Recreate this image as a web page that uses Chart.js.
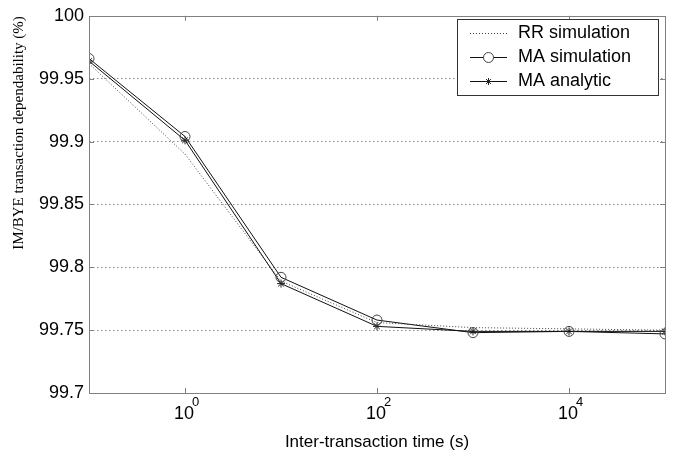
<!DOCTYPE html>
<html><head><meta charset="utf-8">
<script src="https://cdn.jsdelivr.net/npm/chart.js@4"></script>
<style>html,body{margin:0;padding:0;background:#fff}#wrap{width:679px;height:460px;position:relative}canvas{display:block}</style>
</head><body><div id="wrap"><canvas id="c" width="679" height="460"></canvas></div>
<script>
const xValues = [0.1, 1, 10, 100, 1000, 10000, 100000];
const rrSimulation = [99.962, 99.890, 99.789, 99.756, 99.752, 99.751, 99.750];
const maSimulation = [99.966, 99.904, 99.792, 99.758, 99.748, 99.749, 99.747];
const maAnalytic   = [99.964, 99.901, 99.787, 99.753, 99.749, 99.749, 99.749];
const seriesLabels = ['RR simulation', 'MA simulation', 'MA analytic'];
const yTickValues = [99.7, 99.75, 99.8, 99.85, 99.9, 99.95, 100];
const yTickLabels = ['99.7', '99.75', '99.8', '99.85', '99.9', '99.95', '100'];
const xTickExponents = [0, 2, 4];
const xTitle = 'Inter-transaction time (s)';
const yTitle = 'IM/BYE transaction dependability (%)';

const pts = arr => xValues.map((x, i) => ({x: x, y: arr[i]}));
const FRAME = '#808080';

const decorPlugin = {
  id: 'decor',
  afterDraw(chart) {
    const ctx = chart.ctx, a = chart.chartArea;
    const xs = chart.scales.x, ys = chart.scales.y;
    ctx.save();
    ctx.strokeStyle = FRAME; ctx.lineWidth = 1; ctx.setLineDash([]);
    ctx.strokeRect(Math.round(a.left) + 0.5, Math.round(a.top) + 0.5, Math.round(a.right - a.left), Math.round(a.bottom - a.top));
    ctx.beginPath();
    xTickExponents.forEach(e => {
      const px = Math.round(xs.getPixelForValue(Math.pow(10, e))) + 0.5;
      ctx.moveTo(px, a.bottom); ctx.lineTo(px, a.bottom - 5);
      ctx.moveTo(px, a.top); ctx.lineTo(px, a.top + 5);
    });
    yTickValues.forEach(v => {
      const py = Math.round(ys.getPixelForValue(v)) + 0.5;
      ctx.moveTo(a.left, py); ctx.lineTo(a.left + 5, py);
      ctx.moveTo(a.right, py); ctx.lineTo(a.right - 5, py);
    });
    ctx.stroke();
    ctx.fillStyle = '#000';
    xTickExponents.forEach(e => {
      const px = xs.getPixelForValue(Math.pow(10, e));
      ctx.font = '18px "Liberation Sans", Arial, sans-serif';
      ctx.textAlign = 'center'; ctx.textBaseline = 'middle';
      const w = ctx.measureText('10').width;
      ctx.fillText('10', px - 1, a.bottom + 21);
      ctx.font = '13px "Liberation Sans", Arial, sans-serif';
      ctx.textAlign = 'left';
      ctx.fillText(String(e), px - 1 + w / 2 - 2, a.bottom + 9);
    });
    ctx.save();
    ctx.translate(19, 133);
    ctx.rotate(-Math.PI / 2);
    ctx.font = '15px "Liberation Serif", "Times New Roman", serif';
    ctx.textAlign = 'center'; ctx.textBaseline = 'middle';
    ctx.fillText(yTitle, 0, 0);
    ctx.restore();
    const lx = 457, ly = 19, lw = 201, lh = 76;
    ctx.fillStyle = '#fff';
    ctx.fillRect(lx, ly, lw, lh);
    ctx.strokeStyle = '#333';
    ctx.strokeRect(lx + 0.5, ly + 0.5, lw, lh);
    chart.data.datasets.forEach((ds, i) => {
      const cy = ly + 14 + i * 24 + 0.5;
      ctx.strokeStyle = ds.borderColor; ctx.lineWidth = 1;
      ctx.setLineDash(ds.borderDash || []);
      ctx.beginPath(); ctx.moveTo(470, cy); ctx.lineTo(507, cy); ctx.stroke();
      ctx.setLineDash([]);
      if (ds.pointStyle === 'circle' && ds.pointRadius > 0) {
        ctx.fillStyle = '#fff';
        ctx.beginPath(); ctx.arc(488.5, cy, 5, 0, Math.PI * 2); ctx.fill();
        ctx.strokeStyle = ds.pointBorderColor; ctx.stroke();
      } else if (ds.pointStyle === 'star' && ds.pointRadius > 0) {
        ctx.strokeStyle = ds.pointBorderColor;
        const r = 3.5;
        ctx.beginPath();
        ctx.moveTo(488.5 - r, cy); ctx.lineTo(488.5 + r, cy);
        ctx.moveTo(488.5, cy - r); ctx.lineTo(488.5, cy + r);
        ctx.moveTo(488.5 - r * .7, cy - r * .7); ctx.lineTo(488.5 + r * .7, cy + r * .7);
        ctx.moveTo(488.5 - r * .7, cy + r * .7); ctx.lineTo(488.5 + r * .7, cy - r * .7);
        ctx.stroke();
      }
      ctx.fillStyle = '#000';
      ctx.font = '18px "Liberation Sans", Arial, sans-serif';
      ctx.textAlign = 'left'; ctx.textBaseline = 'middle';
      ctx.fillText(ds.label, 518, cy);
    });
    ctx.restore();
  }
};

new Chart(document.getElementById('c'), {
  type: 'line',
  data: {
    datasets: [
      { label: seriesLabels[0], data: pts(rrSimulation), borderColor: '#444', borderWidth: 1, borderDash: [1, 2],
        pointRadius: 0, pointStyle: false, fill: false, tension: 0 },
      { label: seriesLabels[1], data: pts(maSimulation), borderColor: '#111', borderWidth: 1,
        pointStyle: 'circle', pointRadius: 5, pointBorderWidth: 1, pointBorderColor: '#444', pointBackgroundColor: 'rgba(0,0,0,0)', fill: false, tension: 0 },
      { label: seriesLabels[2], data: pts(maAnalytic), borderColor: '#111', borderWidth: 1,
        pointStyle: 'star', pointRadius: 4, pointBorderWidth: 1, pointBorderColor: '#222', pointBackgroundColor: 'rgba(0,0,0,0)', fill: false, tension: 0 }
    ]
  },
  options: {
    responsive: false,
    animation: false,
    devicePixelRatio: 1,
    layout: { padding: { left: 0, top: 13, right: 14, bottom: 0 } },
    plugins: { legend: { display: false }, tooltip: { enabled: false } },
    scales: {
      x: {
        type: 'logarithmic', min: 0.1, max: 100000,
        grid: { display: false },
        border: { display: false },
        ticks: { display: false },
        title: { display: true, text: xTitle, font: { family: '"Liberation Sans", Arial, sans-serif', size: 17 }, color: '#000', padding: { top: 0, bottom: 7 } },
        afterFit: s => { s.height = 67; }
      },
      y: {
        type: 'linear', min: 99.7, max: 100,
        afterBuildTicks: s => { s.ticks = yTickValues.map(v => ({ value: v })); },
        grid: { drawTicks: false, color: c => (c.tick && (c.tick.value <= 99.7001 || c.tick.value >= 99.9999)) ? 'rgba(0,0,0,0)' : '#8a8a8a', lineWidth: 1 },
        border: { display: false, dash: [1.5, 2.5] },
        ticks: { padding: 5, color: '#000', font: { family: '"Liberation Sans", Arial, sans-serif', size: 18 },
          callback: (v, i) => yTickLabels[yTickValues.findIndex(t => Math.abs(t - v) < 1e-6)] },
        afterFit: s => { s.width = 89; }
      }
    }
  },
  plugins: [decorPlugin]
});
</script>
</body></html>
